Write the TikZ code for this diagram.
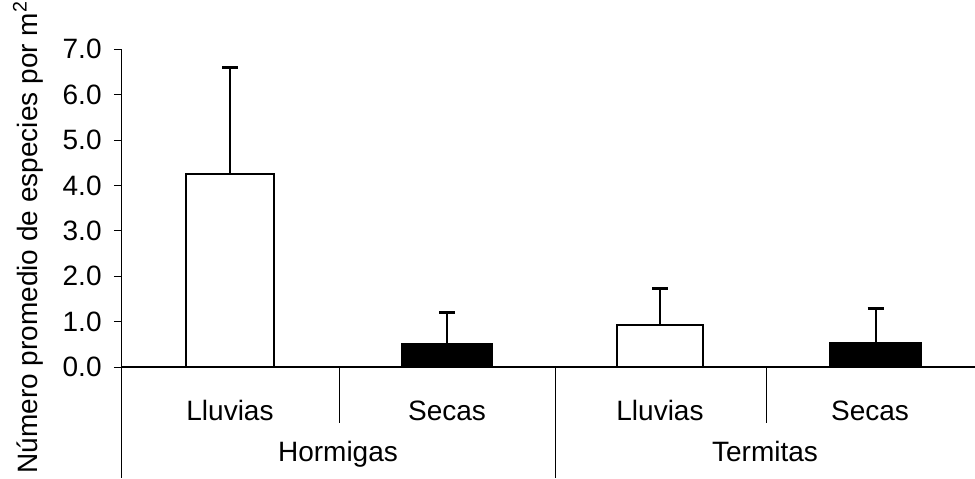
\documentclass[tikz,border=0pt]{standalone}
\usepackage{fontspec}
\setmainfont{Liberation Sans}
\begin{document}
\begin{tikzpicture}[x=0.5pt,y=22.7pt,font=\fontsize{14}{16}\selectfont]
        \useasboundingbox (-121,-2.445) rectangle (854,8.084);
        \draw[thin] (0,7) -- (0,-2.445);
        \draw[semithick] (0,0) -- (854,0);
        \foreach \y in {0,...,7}
        {
            \draw[thin] (-7,\y) -- (0,\y);
            \node[anchor=east,inner sep=0pt] (tick\y) at (-19,\y) {\y.0};
        }
        \draw[thin] (218,0) -- (218,-1.233);
        \draw[thin] (645,0) -- (645,-1.233);
        \draw[thin] (434,0) -- (434,-2.445);
        \foreach \a/\b/\v/\e/\f in {65/153/4.25/6.6/white, 281/371/0.5/1.21/black, 496/582/0.93/1.74/white, 709/800/0.53/1.28/black}
        {
            \draw[line width=1pt,fill=\f] (\a,0) rectangle (\b,\v);
            \draw[line width=1pt] ({(\a+\b)/2},\v) -- ({(\a+\b)/2},\e);
            \draw[line width=1.5pt] ({(\a+\b)/2-8},\e) -- ({(\a+\b)/2+8},\e);
        }
        \node[anchor=base] (lluviasH) at (109,-1.167) {Lluvias};
        \node[anchor=base] (secasH) at (326,-1.167) {Secas};
        \node[anchor=base] (lluviasT) at (539,-1.167) {Lluvias};
        \node[anchor=base] (secasT) at (749,-1.167) {Secas};
        \node[anchor=base] (hormigas) at (217,-2.09) {Hormigas};
        \node[anchor=base] (termitas) at (644,-2.09) {Termitas};
        \node[rotate=90] (ylabel) at (-93,2.86) {Número promedio de especies por m\textsuperscript{2}};
    \end{tikzpicture}
\end{document}
